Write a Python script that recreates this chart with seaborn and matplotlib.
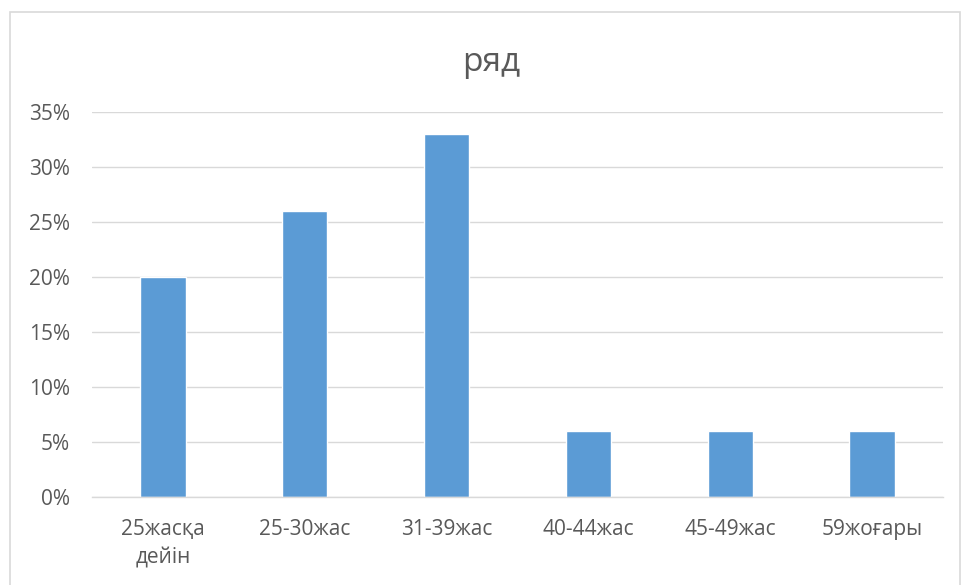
import matplotlib
matplotlib.use("Agg")
import matplotlib.pyplot as plt
from matplotlib.patches import Rectangle
from matplotlib.ticker import PercentFormatter, MultipleLocator
import pandas as pd
import seaborn as sns

sns.set_theme(style="white")
plt.rcParams["font.family"] = ["Open Sans", "DejaVu Sans"]

CATEGORIES = ["25жасқа\nдейін", "25-30жас", "31-39жас", "40-44жас", "45-49жас", "59жоғары"]
VALUES = [0.20, 0.26, 0.33, 0.06, 0.06, 0.06]
TITLE = "ряд"

BAR_COLOR = "#5B9BD5"
GRID_COLOR = "#D9D9D9"
TEXT_COLOR = "#595959"

df = pd.DataFrame({"group": CATEGORIES, "share": VALUES})

fig = plt.figure(figsize=(9.62, 5.85), dpi=100)
ax = fig.add_axes([0.0956, 0.150, 0.8846, 0.6585])

sns.barplot(data=df, x="group", y="share", color=BAR_COLOR, saturation=1,
            width=0.32, ax=ax)

ax.set_xlim(-0.5, len(CATEGORIES) - 0.5)
ax.set_ylim(0, 0.35)
ax.yaxis.set_major_locator(MultipleLocator(0.05))
ax.yaxis.set_major_formatter(PercentFormatter(xmax=1, decimals=0))
ax.grid(axis="y", color=GRID_COLOR, linewidth=1)
ax.set_axisbelow(True)

for side in ["left", "right", "top"]:
    ax.spines[side].set_visible(False)
ax.spines["bottom"].set_color(GRID_COLOR)
ax.spines["bottom"].set_linewidth(1)

ax.set_xlabel("")
ax.set_ylabel("")
ax.tick_params(axis="both", length=0, labelsize=15, colors=TEXT_COLOR)
ax.tick_params(axis="x", pad=16)
ax.tick_params(axis="y", pad=16)
for lbl in ax.get_xticklabels():
    lbl.set_linespacing(1.45)
    lbl.set_verticalalignment("top")

fig.text(0.511, 0.893, TITLE, ha="center", va="center", fontsize=24, color=TEXT_COLOR)

# chart area border like Excel
fig.patches.append(Rectangle((10 / 962, -0.01), 950 / 962, 1 - 12 / 585 + 0.01,
                             transform=fig.transFigure, fill=False,
                             edgecolor=GRID_COLOR, linewidth=1.2))

fig.savefig("out.png", dpi=100, facecolor="white")
